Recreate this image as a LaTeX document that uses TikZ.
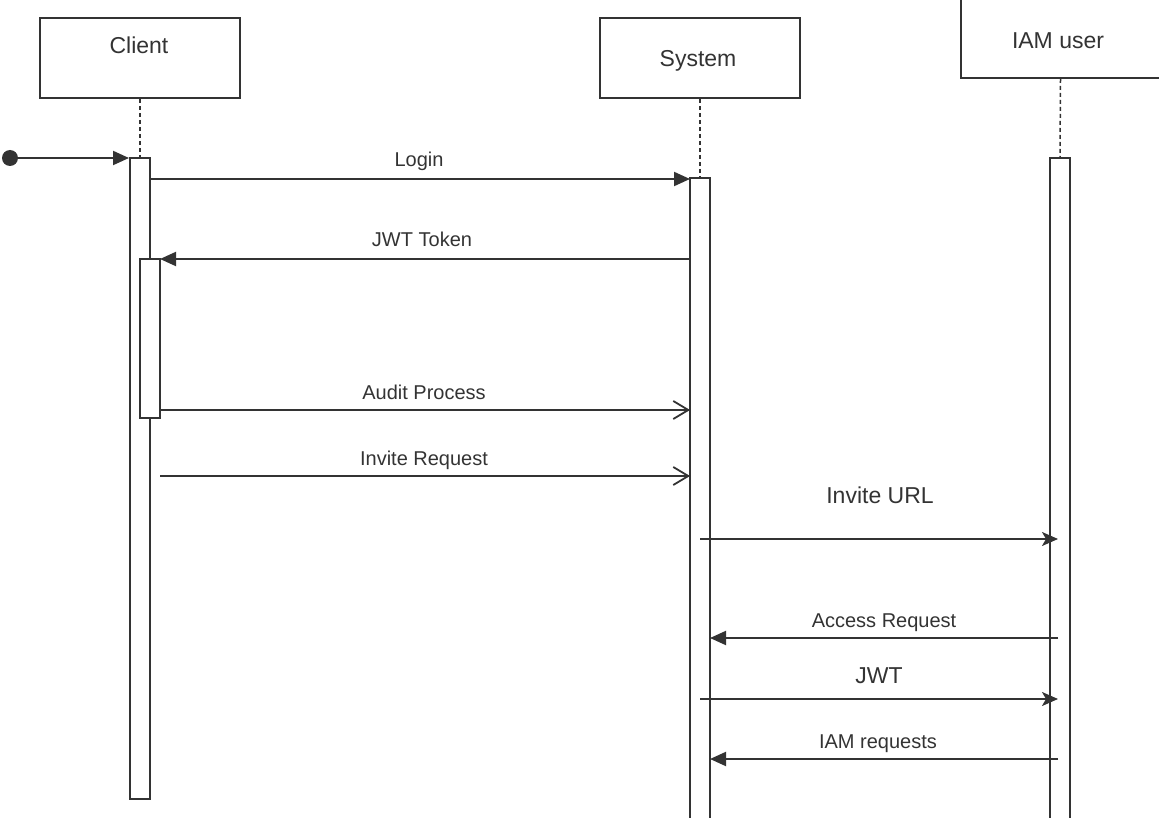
\documentclass[tikz,border=0pt]{standalone}
\usepackage{fontspec}
\setmainfont{Liberation Sans}
\usetikzlibrary{arrows.meta}
\definecolor{ink}{HTML}{333333}
\tikzset{
  wire/.style={draw=ink, line width=2pt},
  head/.style={draw=ink, fill=white, line width=2pt, minimum width=200pt, minimum height=80pt, inner sep=0pt},
  bar/.style={draw=ink, fill=white, line width=2pt, minimum width=20pt, inner sep=0pt},
  lifeline/.style={draw=ink, line width=1.5pt, dash pattern=on 4pt off 3pt},
  sync/.style={wire, -{Triangle[length=16pt,width=14pt]}},
  reply/.style={wire, -{Stealth[length=16pt,width=14pt,inset=4pt]}},
  async/.style={wire, -{Straight Barb[length=15pt,width=18pt,line width=1.8pt]}},
  msg/.style={text=ink, font=\fontsize{20}{24}\selectfont, anchor=base, inner sep=0pt},
  big/.style={text=ink, font=\fontsize{23}{27}\selectfont, anchor=base, inner sep=0pt},
  dot/.style={circle, fill=ink, draw=none, minimum size=16pt, inner sep=0pt}
}
\begin{document}
\begin{tikzpicture}[x=1pt, y=-1pt]
\useasboundingbox (0,0) rectangle (1159,818);

% participants
\node[head] (client) at (140,58) {};
\node[big] (clientlbl) at (139,53.3) {Client};
\node[head] (system) at (700,58) {};
\node[big] (systemlbl) at (698,66.7) {System};
\node[head] (iam) at (1060.5,38) {};
\node[big] (iamlbl) at (1058,48.3) {IAM user};

% activation bars
\node[bar, minimum height=641pt] (cbar) at (140,478.5) {};
\node[bar, minimum height=159pt] (cbar2) at (150,338.5) {};
\node[bar, minimum height=652pt] (sbar) at (700,504) {};
\node[bar, minimum height=672pt] (ibar) at (1060,494) {};

% lifelines
\draw[lifeline] (client.south) -- (cbar.north);
\draw[lifeline] (system.south) -- (sbar.north);
\draw[lifeline] (iam.south) -- (ibar.north);

% message end points
\coordinate (entry) at (129,158);
\coordinate (loginA) at (150,179);
\coordinate (loginB) at (690,179);
\coordinate (jwtA) at (690,259);
\coordinate (jwtB) at (160,259);
\coordinate (auditA) at (160,410);
\coordinate (auditB) at (690,410);
\coordinate (inviteA) at (160,476);
\coordinate (inviteB) at (690,476);
\coordinate (urlA) at (700,539);
\coordinate (urlB) at (1058,539);
\coordinate (accA) at (1058,638);
\coordinate (accB) at (710,638);
\coordinate (jwt2A) at (700,699);
\coordinate (jwt2B) at (1058,699);
\coordinate (reqA) at (1058,759);
\coordinate (reqB) at (710,759);

% found message
\node[dot] (start) at (10,158) {};
\draw[sync] (start) -- (entry);

% messages
\draw[sync] (loginA) -- (loginB);
\node[msg] (loginlbl) at (419,167) {Login};
\draw[sync] (jwtA) -- (jwtB);
\node[msg] (jwtlbl) at (422,247) {JWT Token};
\draw[async] (auditA) -- (auditB);
\node[msg] (auditlbl) at (424,399) {Audit Process};
\draw[async] (inviteA) -- (inviteB);
\node[msg] (invitelbl) at (424,465) {Invite Request};
\draw[reply] (urlA) -- (urlB);
\node[big] (urllbl) at (880,503) {Invite URL};
\draw[sync] (accA) -- (accB);
\node[msg] (acclbl) at (884,627) {Access Request};
\draw[reply] (jwt2A) -- (jwt2B);
\node[big] (jwt2lbl) at (879,683) {JWT};
\draw[sync] (reqA) -- (reqB);
\node[msg] (reqlbl) at (878,748) {IAM requests};
\end{tikzpicture}
\end{document}
